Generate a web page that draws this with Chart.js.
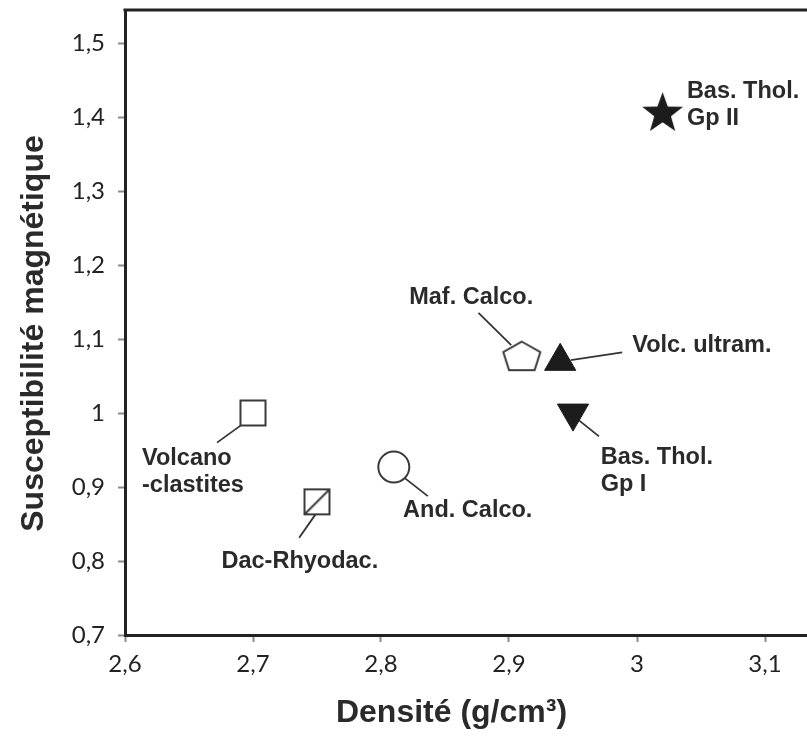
<!DOCTYPE html>
<html>
<head>
<meta charset="utf-8">
<script src="https://cdn.jsdelivr.net/npm/chart.js@4/dist/chart.umd.min.js"></script>
<style>
  html, body { margin: 0; padding: 0; background: #ffffff; }
  #wrap { width: 807px; height: 736px; overflow: hidden; position: relative; }
  canvas { display: block; }
</style>
</head>
<body>
<div id="wrap"><canvas id="c" width="830" height="736" style="width:830px;height:736px"></canvas></div>
<script>
// ---- data ----
const categories = ['Volcano-clastites', 'Dac-Rhyodac.', 'And. Calco.', 'Maf. Calco.', 'Volc. ultram.', 'Bas. Thol. Gp I', 'Bas. Thol. Gp II'];
const densite = [2.70, 2.75, 2.81, 2.91, 2.94, 2.95, 3.02];
const susceptibilite = [1.00, 0.88, 0.927, 1.077, 1.07, 1.00, 1.405];
const labelLines = [
  ['Volcano', '-clastites'],
  ['Dac-Rhyodac.'],
  ['And. Calco.'],
  ['Maf. Calco.'],
  ['Volc. ultram.'],
  ['Bas. Thol.', 'Gp I'],
  ['Bas. Thol.', 'Gp II']
];
const xTicks = [2.6, 2.7, 2.8, 2.9, 3.0, 3.1];
const yTicks = [0.7, 0.8, 0.9, 1.0, 1.1, 1.2, 1.3, 1.4, 1.5];
const xTitle = 'Densité (g/cm³)';
const yTitle = 'Susceptibilité magnétique';

// ---- layout / style (separate from data) ----
const labelLayout = [
  { dx: -111, dy: 52, line: [-12.5, 12.5, -36, 29.5] },
  { dx: -95.5, dy: 66, line: [-1.5, 12.5, -17.8, 35.8] },
  { dx: 9.3, dy: 50, line: [11, 11, 34, 29] },
  { dx: -112.6, dy: -52.6, line: [-43.3, -43.2, -10.6, -11] },
  { dx: 72, dy: -9.6, line: [62, -9, 10.5, -1.3] },
  { dx: 27.7, dy: 50.7, line: [6, 7.3, 26, 23.3] },
  { dx: 24.3, dy: -16, line: null }
];

function mkCanvas(w, h) { const c = document.createElement('canvas'); c.width = w; c.height = h; return c; }
function pentagonImg() {
  const c = mkCanvas(42, 34), g = c.getContext('2d');
  const ox = 2.5, oy = 2.5, w = 37, h = 28.5;
  g.beginPath();
  g.moveTo(ox + w / 2, oy);
  g.lineTo(ox + w, oy + 10.5);
  g.lineTo(ox + w * 0.845, oy + h);
  g.lineTo(ox + w * 0.155, oy + h);
  g.lineTo(ox, oy + 10.5);
  g.closePath();
  g.fillStyle = '#ffffff'; g.fill();
  g.lineWidth = 2; g.strokeStyle = '#3a3a3a'; g.lineJoin = 'miter'; g.stroke();
  return c;
}
function starImg(R, r) {
  const s = Math.ceil(2 * R + 4), c = mkCanvas(s, s), g = c.getContext('2d');
  g.translate(s / 2, s / 2);
  g.beginPath();
  for (let k = 0; k < 10; k++) {
    const a = -Math.PI / 2 + k * Math.PI / 5, rad = (k % 2) ? r : R;
    const px = Math.cos(a) * rad, py = Math.sin(a) * rad;
    if (k === 0) g.moveTo(px, py); else g.lineTo(px, py);
  }
  g.closePath();
  g.fillStyle = '#1c1c1c'; g.fill();
  return c;
}
function slashSquareImg(side) {
  const s = side + 4, c = mkCanvas(s, s), g = c.getContext('2d');
  g.fillStyle = '#ffffff'; g.fillRect(2, 2, side, side);
  g.lineWidth = 2; g.strokeStyle = '#3a3a3a';
  g.strokeRect(2, 2, side, side);
  g.beginPath(); g.moveTo(2, 2 + side); g.lineTo(2 + side, 2); g.stroke();
  return c;
}

const markerStyles = [
  { pointStyle: 'rect', pointRadius: 17.7, backgroundColor: '#ffffff', borderColor: '#3a3a3a', borderWidth: 2 },
  { pointStyle: slashSquareImg(25) },
  { pointStyle: 'circle', pointRadius: 15.5, backgroundColor: '#ffffff', borderColor: '#3a3a3a', borderWidth: 2 },
  { pointStyle: pentagonImg() },
  { pointStyle: 'triangle', pointRadius: 18, backgroundColor: '#1c1c1c', borderColor: '#1c1c1c', borderWidth: 1 },
  { pointStyle: 'triangle', pointRadius: 18, pointRotation: 180, backgroundColor: '#1c1c1c', borderColor: '#1c1c1c', borderWidth: 1 },
  { pointStyle: starImg(21.5, 8.8) }
];

const datasets = categories.map((name, i) => Object.assign({
  label: name,
  data: [{ x: densite[i], y: susceptibilite[i] }],
  clip: false
}, markerStyles[i]));

const fmt = v => String(Math.round(v * 10) / 10).replace('.', ',');

const annotPlugin = {
  id: 'annot',
  beforeDatasetsDraw(chart) {
    const { ctx, scales: { x, y } } = chart;
    ctx.save();
    ctx.strokeStyle = '#333333';
    ctx.lineWidth = 1.8;
    categories.forEach((n, i) => {
      const L = labelLayout[i].line;
      if (!L) return;
      const px = x.getPixelForValue(densite[i]), py = y.getPixelForValue(susceptibilite[i]);
      ctx.beginPath();
      ctx.moveTo(px + L[0], py + L[1]);
      ctx.lineTo(px + L[2], py + L[3]);
      ctx.stroke();
    });
    ctx.restore();
  },
  afterDatasetsDraw(chart) {
    const { ctx, scales: { x, y } } = chart;
    ctx.save();
    ctx.fillStyle = '#2a2a2a';
    ctx.font = 'bold 23.5px "Liberation Sans", Arial, sans-serif';
    ctx.textAlign = 'left';
    ctx.textBaseline = 'alphabetic';
    categories.forEach((n, i) => {
      const px = x.getPixelForValue(densite[i]), py = y.getPixelForValue(susceptibilite[i]);
      const c = labelLayout[i];
      labelLines[i].forEach((t, k) => ctx.fillText(t, px + c.dx, py + c.dy + k * 27));
    });
    ctx.restore();
  },
  afterDraw(chart) {
    const { ctx, chartArea: a } = chart;
    ctx.save();
    ctx.strokeStyle = '#222222';
    ctx.lineWidth = 3;
    ctx.beginPath();
    ctx.moveTo(a.left - 1.5, a.top);
    ctx.lineTo(a.right, a.top);
    ctx.lineTo(a.right, a.bottom);
    ctx.stroke();
    ctx.fillStyle = '#2a2a2a';
    ctx.font = 'bold 32px "Liberation Sans", Arial, sans-serif';
    ctx.textAlign = 'center';
    ctx.textBaseline = 'alphabetic';
    ctx.fillText(xTitle, 451.5, 722);
    ctx.translate(43, 333.5);
    ctx.rotate(-Math.PI / 2);
    ctx.fillText(yTitle, 0, 0);
    ctx.restore();
  }
};

const tickFont = { family: 'Lato, "Open Sans", sans-serif', size: 24 };

new Chart(document.getElementById('c'), {
  type: 'scatter',
  data: { datasets },
  options: {
    responsive: false,
    animation: false,
    devicePixelRatio: 1,
    layout: { autoPadding: false, padding: { top: 10, right: 1, left: 0, bottom: 0 } },
    plugins: { legend: { display: false }, tooltip: { enabled: false } },
    scales: {
      x: {
        type: 'linear', min: 2.6, max: 3.15,
        afterBuildTicks: s => { s.ticks = xTicks.map(v => ({ value: v })); },
        afterFit: s => { s.height = 101; s.paddingLeft = 0; s.paddingRight = 0; },
        ticks: { callback: v => fmt(v), font: tickFont, color: '#222222', padding: 8, maxRotation: 0, autoSkip: false },
        grid: { display: true, drawOnChartArea: false, drawTicks: true, tickLength: 7, tickColor: '#8a8a8a', tickWidth: 2 },
        border: { display: true, color: '#222222', width: 3 },
        title: { display: false }
      },
      y: {
        type: 'linear', min: 0.7, max: 1.545,
        afterBuildTicks: s => { s.ticks = yTicks.map(v => ({ value: v })); },
        afterFit: s => { s.width = 125; s.paddingTop = 0; s.paddingBottom = 0; },
        ticks: { callback: v => fmt(v), font: tickFont, color: '#222222', padding: 13, autoSkip: false },
        grid: { display: true, drawOnChartArea: false, drawTicks: true, tickLength: 7, tickColor: '#8a8a8a', tickWidth: 2 },
        border: { display: true, color: '#222222', width: 3 },
        title: { display: false }
      }
    }
  },
  plugins: [annotPlugin]
});
</script>
</body>
</html>
